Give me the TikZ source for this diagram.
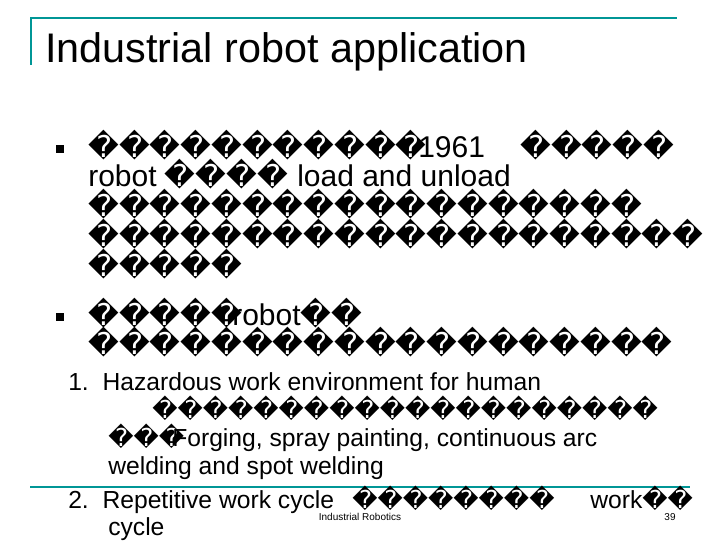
\documentclass[tikz,border=0pt]{standalone}
\usepackage{fontspec}
\setmainfont{Liberation Sans}
\newfontfamily\dejavu{DejaVu Sans}
\definecolor{teal1}{RGB}{0,150,150}
\newcommand\Q[1]{{\dejavu #1}}
\begin{document}
\begin{tikzpicture}[x=0.75pt,y=-0.75pt,
  big/.style={anchor=base west,inner sep=0pt,font=\fontsize{22.5}{24}\selectfont},
  mid/.style={anchor=base west,inner sep=0pt,font=\fontsize{18.5}{20}\selectfont},
  bul/.style={fill=black,minimum size=6pt,inner sep=0pt}]
\useasboundingbox (0,0) rectangle (720,540);
\draw[teal1,line width=1.5pt] (30,18) -- (677,18);
\draw[teal1,line width=1.5pt] (31,18) -- (31,65);
\draw[teal1,line width=0.8pt] (30,487) -- (690,487);
\node[anchor=base west,inner sep=0pt,font=\fontsize{31}{32}\selectfont] (title) at (45,62) {Industrial robot application};
\node[bul] (b1) at (60,149) {};
\node[bul] (b2) at (60,317) {};
\node[big] (l1) at (88,157) {\Q{�����������}};
\node[big] (l1b) at (418,157) {1961};
\node[big] (l1c) at (520,157) {\Q{�����}};
\node[big] (l2) at (88,186) {robot \Q{����}};
\node[big] (l2b) at (297,186) {load and unload};
\node[big] (l3) at (88,216) {\Q{������������������}};
\node[big] (l4) at (88,246) {\Q{��������������������}};
\node[big] (l5) at (88,276) {\Q{�����}};
\node[big] (l6) at (88,325) {\Q{�����}};
\node[big] (l6b) at (232,325) {robot\Q{��}};
\node[big] (l7) at (88,354) {\Q{�������������������}};
\node[mid] (n1) at (68,390) {1.\ \ Hazardous work environment for human};
\node[mid] (n2) at (152,418) {\Q{��������������������}};
\node[mid] (n3) at (108,446) {\Q{���}};
\node[mid] (n3b) at (172,446) {Forging, spray painting, continuous arc};
\node[mid] (n4) at (108,474) {welding and spot welding};
\node[mid] (n5) at (68,508) {2.\ \ Repetitive work cycle};
\node[mid] (n5b) at (352,508) {\Q{��������}};
\node[mid] (n5c) at (590,508) {work\Q{��}};
\node[mid] (n6) at (108,535) {cycle};
\node[anchor=base,inner sep=0pt,font=\fontsize{7.5}{8}\selectfont] (ft) at (360,520) {Industrial Robotics};
\node[anchor=base,inner sep=0pt,font=\fontsize{7.5}{8}\selectfont] (pg) at (670,520) {39};
\end{tikzpicture}
\end{document}
